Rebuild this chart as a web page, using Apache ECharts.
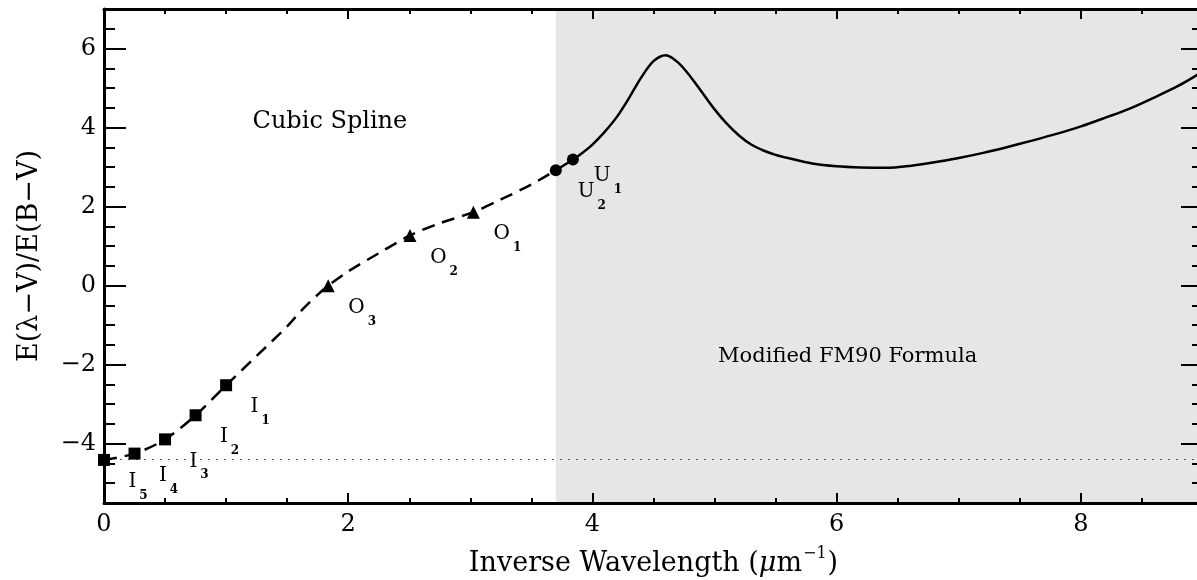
<!DOCTYPE html>
<html>
<head>
<meta charset="utf-8">
<script src="https://cdn.jsdelivr.net/npm/echarts@6/dist/echarts.min.js"></script>
<style>
  html, body { margin: 0; padding: 0; background: #ffffff; }
  #chart { width: 1197px; height: 580px; }
</style>
</head>
<body>
<div id="chart"></div>
<script>
// Extinction curve: cubic spline through IR/optical anchors, FM90 formula in the UV
const splineX = [0, 0.25, 0.5, 0.75, 1.0, 1.25, 1.5, 1.62, 1.76, 1.836, 2.0, 2.25, 2.506, 2.75, 3.025, 3.25, 3.5, 3.70];
const splineY = [-4.41, -4.25, -3.89, -3.28, -2.52, -1.78, -1.03, -0.62, -0.20, 0.0, 0.36, 0.82, 1.27, 1.58, 1.86, 2.18, 2.56, 2.92];

const fmX = [3.70, 3.80, 3.90, 4.00, 4.10, 4.20, 4.30, 4.40, 4.50, 4.60, 4.70, 4.80, 4.90, 5.00, 5.10, 5.20, 5.30, 5.40, 5.50, 5.60,
             5.80, 6.00, 6.20, 6.40, 6.60, 6.80, 7.00, 7.20, 7.40, 7.60, 7.80, 8.00, 8.20, 8.40, 8.60, 8.80, 9.00];
const fmY = [2.92, 3.11, 3.32, 3.57, 3.89, 4.27, 4.75, 5.27, 5.68, 5.83, 5.65, 5.30, 4.88, 4.46, 4.10, 3.80, 3.57, 3.42, 3.31, 3.23,
             3.09, 3.02, 2.99, 2.98, 3.03, 3.12, 3.23, 3.36, 3.51, 3.67, 3.84, 4.03, 4.25, 4.48, 4.76, 5.06, 5.42];

// Anchor points
const irNames = ['I5', 'I4', 'I3', 'I2', 'I1'];
const irX = [0, 0.25, 0.5, 0.75, 1.0];
const irY = [-4.41, -4.25, -3.89, -3.28, -2.52];

const optNames = ['O3', 'O2', 'O1'];
const optX = [1.836, 2.506, 3.025];
const optY = [0.0, 1.27, 1.86];

const uvNames = ['U2', 'U1'];
const uvX = [3.70, 3.84];
const uvY = [2.92, 3.19];

// Axis ticks
const xMajorTicks = [0, 2, 4, 6, 8];
const yMajorTicks = [-4, -2, 0, 2, 4, 6];
const xRange = [0, 9];
const yRange = [-5.5, 7];
const infraredLimit = -4.4;   // dotted reference level
const uvStart = 3.70;         // start of the FM90 region

const FONT = '"DejaVu Serif", "Liberation Serif", serif';
const INK = '#000000';

const chart = echarts.init(document.getElementById('chart'), null, { renderer: 'canvas' });

function pairs(xs, ys) { return xs.map((x, i) => [x, ys[i]]); }
const fmtNum = v => (v < 0 ? '\u2212' + Math.abs(v) : String(v));

function xAxisPair(position, withLabels) {
  const base = {
    type: 'value', min: xRange[0], max: xRange[1], position: position, z: 10,
    splitLine: { show: false }
  };
  return [
    Object.assign({}, base, {
      interval: 0.5,
      axisLine: { show: true, onZero: false, lineStyle: { color: INK, width: 3 } },
      axisTick: { show: true, inside: true, length: 5, lineStyle: { color: INK, width: 2 } },
      axisLabel: withLabels ? {
        show: true, customValues: xMajorTicks, margin: 10, color: INK,
        fontFamily: FONT, fontSize: 24, formatter: fmtNum
      } : { show: false },
      name: withLabels ? '{t|Inverse Wavelength (}{mu|\u03bc}{t|m}{sup|\u22121}{t|)}' : '',
      nameLocation: 'middle', nameGap: 42,
      nameTextStyle: {
        rich: {
          t: { fontFamily: FONT, fontSize: 27, color: INK, verticalAlign: 'bottom', lineHeight: 32 },
          mu: { fontFamily: FONT, fontSize: 27, color: INK, fontStyle: 'italic', verticalAlign: 'bottom', lineHeight: 32 },
          sup: { fontFamily: FONT, fontSize: 16, color: INK, verticalAlign: 'bottom', lineHeight: 16, padding: [0, 1, 15, 1] }
        }
      }
    }),
    Object.assign({}, base, {
      axisLine: { show: false, onZero: false },
      axisTick: { show: true, inside: true, length: 10, customValues: xMajorTicks, lineStyle: { color: INK, width: 2 } },
      axisLabel: { show: false }
    })
  ];
}

function yAxisPair(position, withLabels) {
  const base = {
    type: 'value', min: yRange[0], max: yRange[1], position: position, z: 10,
    splitLine: { show: false }
  };
  return [
    Object.assign({}, base, {
      interval: 0.5,
      axisLine: { show: true, onZero: false, lineStyle: { color: INK, width: 3 } },
      axisTick: { show: true, inside: true, length: 11, lineStyle: { color: INK, width: 2 } },
      axisLabel: withLabels ? {
        show: true, customValues: yMajorTicks, margin: 8, color: INK,
        fontFamily: FONT, fontSize: 24, formatter: fmtNum
      } : { show: false },
      name: withLabels ? 'E(\u03bb\u2212V)/E(B\u2212V)' : '',
      nameLocation: 'middle', nameGap: 61,
      nameTextStyle: { fontFamily: FONT, fontSize: 27, color: INK }
    }),
    Object.assign({}, base, {
      axisLine: { show: false, onZero: false },
      axisTick: { show: true, inside: true, length: 22, customValues: yMajorTicks, lineStyle: { color: INK, width: 2 } },
      axisLabel: { show: false }
    })
  ];
}

// Anchor label: letter with a subscript index
const anchorRich = {
  a: { fontFamily: FONT, fontSize: 20, color: INK, verticalAlign: 'top', lineHeight: 22 },
  s: { fontFamily: FONT, fontSize: 12, fontWeight: 'bold', color: INK, verticalAlign: 'top', lineHeight: 12, padding: [18, 0, 0, 3] }
};
function anchorData(names, xs, ys, offsets) {
  return xs.map((x, i) => ({
    name: names[i],
    value: [x, ys[i]],
    label: { offset: offsets ? offsets[i] : [34, 23] }
  }));
}
function anchorSeries(symbol, size, names, xs, ys, offsets) {
  return {
    type: 'scatter', symbol: symbol, symbolSize: size, z: 5,
    itemStyle: { color: INK, opacity: 1 },
    label: {
      show: true, position: 'inside', opacity: 1,
      formatter: p => '{a|' + p.name.charAt(0) + '}{s|' + p.name.slice(1) + '}',
      rich: anchorRich
    },
    data: anchorData(names, xs, ys, offsets)
  };
}

const option = {
  backgroundColor: '#ffffff',
  animation: false,
  grid: { left: 104, top: 9, width: 1099, height: 494, outerBoundsMode: 'none', containLabel: false },
  xAxis: [].concat(xAxisPair('bottom', true), xAxisPair('top', false)),
  yAxis: [].concat(yAxisPair('left', true), yAxisPair('right', false)),
  series: [
    {
      // dashed cubic spline through the IR/optical anchors
      type: 'line', smooth: 0.3, showSymbol: false, z: 3,
      lineStyle: { color: INK, width: 2.5, type: [13, 8] },
      data: pairs(splineX, splineY),
      markArea: {
        silent: true,
        itemStyle: { color: '#e6e6e6' },
        data: [[{ xAxis: uvStart }, { xAxis: xRange[1] }]]
      },
      markLine: {
        silent: true, symbol: 'none', label: { show: false },
        lineStyle: { color: '#555555', width: 1.2, type: [2, 6] },
        data: [{ yAxis: infraredLimit }]
      }
    },
    {
      // FM90 ultraviolet curve
      type: 'line', smooth: 0.3, showSymbol: false, z: 3,
      lineStyle: { color: INK, width: 2.5, type: 'solid' },
      data: pairs(fmX, fmY)
    },
    anchorSeries('rect', 12, irNames, irX, irY),
    anchorSeries('triangle', 13, optNames, optX, optY),
    anchorSeries('circle', 12, uvNames, uvX, uvY, [[36, 23], [35, 17]]),
    {
      // region captions
      type: 'scatter', symbolSize: 0, silent: true, z: 4,
      itemStyle: { opacity: 1 },
      label: { show: true, position: 'inside', opacity: 1, formatter: p => p.name, fontFamily: FONT, color: INK },
      data: [
        { name: 'Cubic Spline', value: [1.85, 4.15], label: { fontSize: 24 } },
        { name: 'Modified FM90 Formula', value: [6.09, -1.8], label: { fontSize: 21 } }
      ]
    }
  ]
};

chart.setOption(option);
</script>
</body>
</html>
